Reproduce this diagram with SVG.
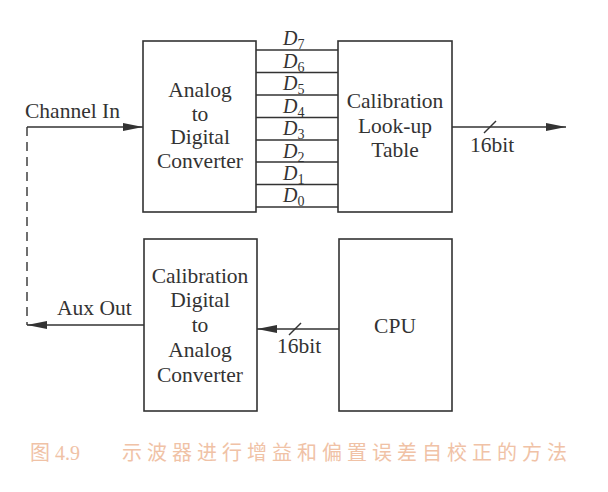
<svg xmlns="http://www.w3.org/2000/svg" width="608" height="492" viewBox="0 0 608 492">
<style>
.box{fill:#fff;stroke:#333;stroke-width:1.6}
.ln{stroke:#333;stroke-width:1.4;fill:none}
.t{font-family:"Liberation Serif","Times New Roman",serif;font-size:21.5px;fill:#333;text-anchor:middle}
.tl{font-family:"Liberation Serif","Times New Roman",serif;font-size:21.5px;fill:#333}
.d{font-family:"Liberation Serif","Times New Roman",serif;font-size:20px;font-style:italic;fill:#333}
.sub{font-size:14px;font-style:normal}
.cap{font-family:"Liberation Serif","Noto Sans CJK SC",serif;font-size:20px;fill:#f0c2a6}
</style>
<defs>
<marker id="ah" viewBox="0 0 20 8" refX="20" refY="4" markerWidth="20" markerHeight="8" markerUnits="userSpaceOnUse" orient="auto">
<path d="M0,0 L20,4 L0,8 Z" fill="#333"/>
</marker>
</defs>
<rect width="608" height="492" fill="#fff"/>
<g id="connectors">
<line class="ln" x1="27" y1="127" x2="143" y2="127" marker-end="url(#ah)"/>
<line class="ln" x1="27" y1="127" x2="27" y2="325" stroke-dasharray="9,6"/>
<line class="ln" x1="144" y1="325" x2="27" y2="325" marker-end="url(#ah)"/>
<line class="ln" x1="452" y1="127" x2="566" y2="127" marker-end="url(#ah)"/>
<line class="ln" x1="484" y1="133" x2="496" y2="121"/>
<line class="ln" x1="339" y1="329" x2="257" y2="329" marker-end="url(#ah)"/>
<line class="ln" x1="289" y1="335" x2="301" y2="323"/>
<g id="databus">
<line class="ln" x1="256" y1="50" x2="338" y2="50"/>
<line class="ln" x1="256" y1="72.5" x2="338" y2="72.5"/>
<line class="ln" x1="256" y1="95" x2="338" y2="95"/>
<line class="ln" x1="256" y1="117.5" x2="338" y2="117.5"/>
<line class="ln" x1="256" y1="140" x2="338" y2="140"/>
<line class="ln" x1="256" y1="162" x2="338" y2="162"/>
<line class="ln" x1="256" y1="184.5" x2="338" y2="184.5"/>
<line class="ln" x1="256" y1="207" x2="338" y2="207"/>
<text class="d" x="283" y="45">D<tspan class="sub" dy="4">7</tspan></text>
<text class="d" x="283" y="67.5">D<tspan class="sub" dy="4">6</tspan></text>
<text class="d" x="283" y="90">D<tspan class="sub" dy="4">5</tspan></text>
<text class="d" x="283" y="112.5">D<tspan class="sub" dy="4">4</tspan></text>
<text class="d" x="283" y="135">D<tspan class="sub" dy="4">3</tspan></text>
<text class="d" x="283" y="157.5">D<tspan class="sub" dy="4">2</tspan></text>
<text class="d" x="283" y="180">D<tspan class="sub" dy="4">1</tspan></text>
<text class="d" x="283" y="202">D<tspan class="sub" dy="4">0</tspan></text>
</g>
<text class="tl" x="25" y="118">Channel In</text>
<text class="tl" x="57" y="315">Aux Out</text>
<text class="tl" x="470" y="152">16bit</text>
<text class="tl" x="277" y="353">16bit</text>
</g>
<g id="adc">
<rect class="box" x="143" y="41" width="113" height="171"/>
<text class="t" x="200" y="97">Analog</text>
<text class="t" x="200" y="121">to</text>
<text class="t" x="200" y="144">Digital</text>
<text class="t" x="200" y="168">Converter</text>
</g>
<g id="lut">
<rect class="box" x="338" y="41" width="114" height="171"/>
<text class="t" x="395" y="108">Calibration</text>
<text class="t" x="395" y="133">Look-up</text>
<text class="t" x="395" y="157">Table</text>
</g>
<g id="dac">
<rect class="box" x="144" y="239" width="113" height="172"/>
<text class="t" x="200" y="283">Calibration</text>
<text class="t" x="200" y="307">Digital</text>
<text class="t" x="200" y="332">to</text>
<text class="t" x="200" y="357">Analog</text>
<text class="t" x="200" y="382">Converter</text>
</g>
<g id="cpu">
<rect class="box" x="339" y="239" width="113" height="172"/>
<text class="t" x="395" y="333">CPU</text>
</g>
<text class="cap" x="30" y="460">图 4.9<tspan x="122" letter-spacing="5">示波器进行增益和偏置误差自校正的方法</tspan></text>
</svg>
